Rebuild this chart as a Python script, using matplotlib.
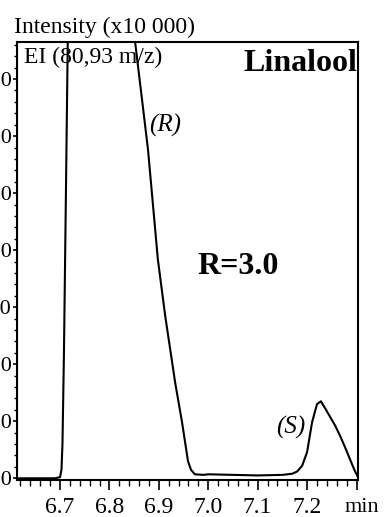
import numpy as np
import matplotlib.pyplot as plt

# ---------------------------------------------------------
# DATA
# ---------------------------------------------------------

time_min = [6.613, 6.650, 6.690, 6.700, 6.703, 6.705, 6.708, 6.712, 6.716,
            6.730, 6.760, 6.800, 6.830, 6.852, 6.878, 6.898, 6.913, 6.933,
            6.947, 6.959, 6.965, 6.973, 6.990, 7.000, 7.050, 7.100, 7.150,
            7.170, 7.180, 7.190, 7.200, 7.210, 7.220, 7.228, 7.237, 7.247,
            7.257, 7.267, 7.277, 7.287, 7.296, 7.303]
intensity = [0.0, 0.0, 0.0, 0.02, 0.15, 0.6, 2.2, 5.0, 7.9,
             12.0, 16.0, 15.0, 10.5, 7.65, 5.77, 3.84, 2.84, 1.68,
             0.98, 0.30, 0.15, 0.07, 0.06, 0.07, 0.06, 0.05, 0.06,
             0.08, 0.12, 0.22, 0.46, 0.98, 1.30, 1.35, 1.22, 1.07,
             0.92, 0.74, 0.54, 0.33, 0.14, 0.02]

x_ticks = [6.7, 6.8, 6.9, 7.0, 7.1, 7.2, 7.3]
x_labels = ["6.7", "6.8", "6.9", "7.0", "7.1", "7.2", ""]
y_ticks = [0, 1, 2, 3, 4, 5, 6, 7]

# ---------------------------------------------------------
# PLOT
# ---------------------------------------------------------

plt.rcParams["font.family"] = ["Liberation Serif", "DejaVu Serif"]

fig = plt.figure(figsize=(3.84, 5.17), dpi=100)
ax = fig.add_axes([17 / 384, 1 - 480 / 517, 341 / 384, 438 / 517])

ax.plot(time_min, intensity, color="black", lw=1.5, clip_on=True)

ax.set_xlim(6.613, 7.303)
ax.set_ylim(-0.03, 7.65)

ax.set_xticks(x_ticks)
ax.set_xticklabels(x_labels)
ax.set_xticks(np.arange(6.62, 7.301, 0.02), minor=True)
ax.set_yticks(y_ticks)
ax.set_yticklabels([f"{v:.1f}" for v in y_ticks])
ax.set_yticks(np.arange(0, 7.61, 0.2), minor=True)

ax.tick_params(axis="x", which="major", direction="out", length=7.5,
               width=1.2, labelsize=17, pad=4.5)
ax.tick_params(axis="x", which="minor", direction="out", length=4, width=1)
ax.tick_params(axis="y", which="major", direction="out", length=3,
               width=1.2, labelsize=16, pad=0.5)
ax.tick_params(axis="y", which="minor", direction="out", length=2, width=1)
ax.tick_params(top=False, right=False)
for sp in ax.spines.values():
    sp.set_linewidth(1.5)

# unit label sits where the 7.3 tick label would be
ax.text(1.012, -0.042, "min", transform=ax.transAxes, ha="center", va="top",
        fontsize=16)
ax.text(-0.01, 1.008, "Intensity (x10 000)", transform=ax.transAxes,
        ha="left", va="bottom", fontsize=17)
ax.text(0.02, 0.99, "EI (80,93 m/z)", transform=ax.transAxes,
        ha="left", va="top", fontsize=17)
ax.text(0.997, 0.985, "Linalool", transform=ax.transAxes, ha="right",
        va="top", fontsize=23, fontweight="bold")
ax.text(6.913, 6.19, "(R)", ha="center", va="center", fontsize=18,
        style="italic")
ax.text(7.06, 3.72, "R=3.0", ha="center", va="center", fontsize=23,
        fontweight="bold")
ax.text(7.166, 0.89, "(S)", ha="center", va="center", fontsize=18,
        style="italic")

plt.savefig("out.png", dpi=100)
plt.close()
